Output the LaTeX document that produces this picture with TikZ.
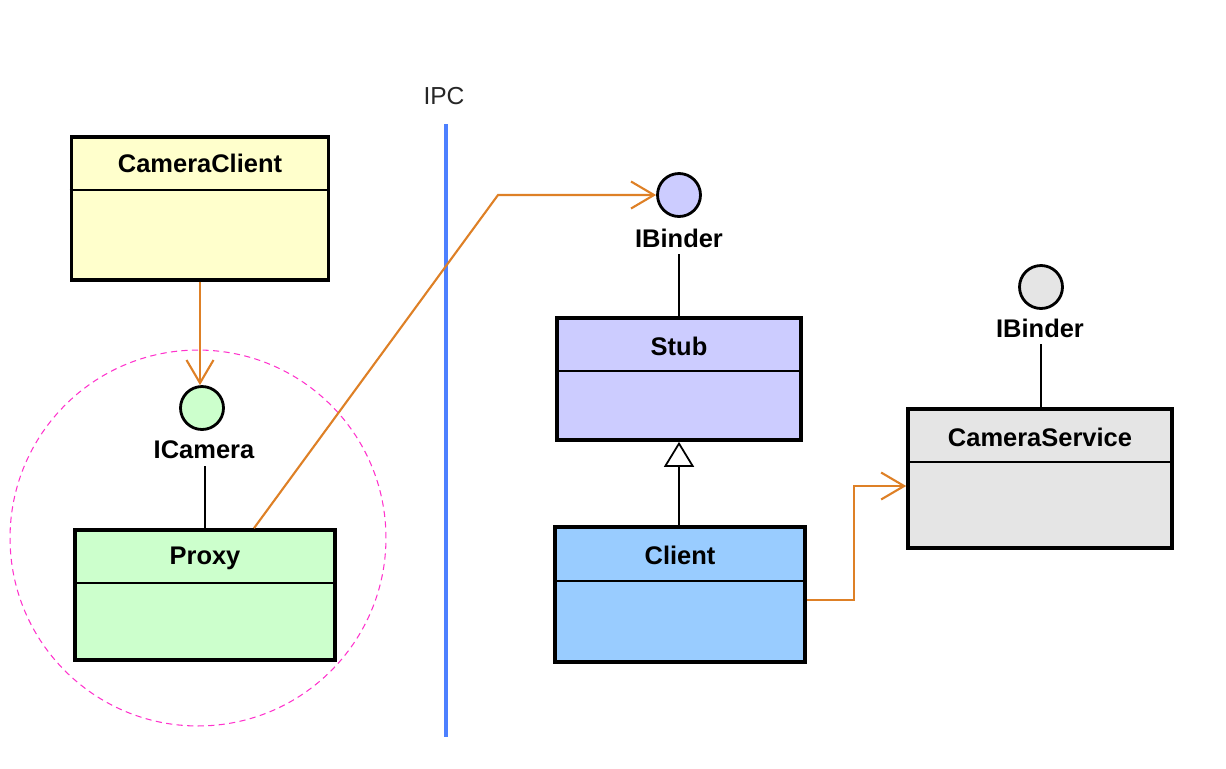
\documentclass[tikz,border=0pt]{standalone}
\usepackage{fontspec}
\setmainfont{Liberation Sans}
\usetikzlibrary{arrows.meta}

\definecolor{clientyellow}{HTML}{FFFFCC}
\definecolor{proxygreen}{HTML}{CCFFCC}
\definecolor{stubviolet}{HTML}{CCCCFF}
\definecolor{clientblue}{HTML}{99CCFF}
\definecolor{servicegray}{HTML}{E5E5E5}
\definecolor{deporange}{RGB}{222,128,38}
\definecolor{ipcblue}{RGB}{77,128,255}
\definecolor{groupmagenta}{RGB}{255,51,204}

\tikzset{
  classbox/.style={draw, line width=2.1pt, inner sep=0pt},
  classtitle/.style={font=\fontsize{14.5}{17}\selectfont\bfseries, inner sep=0pt},
  divider/.style={line width=1.1pt},
  iface/.style={circle, draw, line width=1.6pt, minimum size=0.86cm, inner sep=0pt},
  ifacelabel/.style={font=\fontsize{14.5}{17}\selectfont\bfseries, inner sep=1pt},
  stem/.style={line width=1pt},
  dep/.style={deporange, line width=1.2pt, -{Straight Barb[length=0.46cm, width=0.54cm]}},
  inherit/.style={line width=1pt, -{Triangle[open, length=0.5cm, width=0.6cm, fill=white]}}
}

\begin{document}
\begin{tikzpicture}[x=0.02cm, y=-0.02cm]
    \useasboundingbox (0,0) rectangle (1226,768);

    % Group circle round the proxy side
    \draw[groupmagenta, line width=0.6pt, dash pattern=on 3.5pt off 2.5pt] (198,538) circle[radius=3.76cm];

    % IPC boundary
    \node[font=\fontsize{14}{16}\selectfont, text=black!85] (ipc) at (444,96) {IPC};
    \draw[ipcblue, line width=2.2pt] (446,124) -- (446,737);

    % Class boxes
    \node[classbox, fill=clientyellow, minimum width=5.14cm, minimum height=2.86cm] (cameraclient) at (200,208.5) {};
    \node[classbox, fill=proxygreen, minimum width=5.2cm, minimum height=2.6cm] (proxy) at (205,595) {};
    \node[classbox, fill=stubviolet, minimum width=4.88cm, minimum height=2.44cm] (stub) at (679,379) {};
    \node[classbox, fill=clientblue, minimum width=5.0cm, minimum height=2.7cm] (client) at (680,594.5) {};
    \node[classbox, fill=servicegray, minimum width=5.28cm, minimum height=2.78cm] (cameraservice) at (1040,478.5) {};

    % Class names
    \node[classtitle] (cameraclienttitle) at ([yshift=-0.56cm]cameraclient.north) {CameraClient};
    \node[classtitle] (proxytitle) at ([yshift=-0.6cm]proxy.north) {Proxy};
    \node[classtitle] (stubtitle) at ([yshift=-0.6cm]stub.north) {Stub};
    \node[classtitle] (clienttitle) at ([yshift=-0.6cm]client.north) {Client};
    \node[classtitle] (cameraservicetitle) at ([yshift=-0.6cm]cameraservice.north) {CameraService};

    % Compartment lines
    \draw[divider] ([yshift=-1.1cm]cameraclient.north west) -- ([yshift=-1.1cm]cameraclient.north east);
    \draw[divider] ([yshift=-1.1cm]proxy.north west) -- ([yshift=-1.1cm]proxy.north east);
    \draw[divider] ([yshift=-1.1cm]stub.north west) -- ([yshift=-1.1cm]stub.north east);
    \draw[divider] ([yshift=-1.12cm]client.north west) -- ([yshift=-1.12cm]client.north east);
    \draw[divider] ([yshift=-1.1cm]cameraservice.north west) -- ([yshift=-1.1cm]cameraservice.north east);

    % Interfaces
    \node[iface, fill=proxygreen] (icamera) at (202,408) {};
    \node[ifacelabel] (icameralabel) at (204,450) {ICamera};
    \node[iface, fill=stubviolet] (binderstub) at (679,195) {};
    \node[ifacelabel] (binderstublabel) at (679,238) {IBinder};
    \node[iface, fill=servicegray] (binderservice) at (1041,287) {};
    \node[ifacelabel] (binderservicelabel) at (1040,328) {IBinder};

    % Interface stems
    \draw[stem] ([yshift=-0.1cm]icameralabel.south -| proxy.north) -- (proxy.north);
    \draw[stem] ([yshift=-0.1cm]binderstublabel.south) -- (stub.north);
    \draw[stem] ([yshift=-0.1cm]binderservicelabel.south -| binderservice) -- (binderservice |- cameraservice.north);

    % Generalization
    \draw[inherit] (client.north -| stub.south) -- (stub.south);

    % Dependencies
    \coordinate (ipcbend) at (498,195);
    \draw[dep] (cameraclient.south) -- (cameraclient.south |- icamera.north);
    \draw[dep] ([xshift=0.98cm]proxy.north) -- (ipcbend) -- (binderstub.west);
    \draw[dep] ([yshift=-0.11cm]client.east) -| ([xshift=-1.04cm, yshift=-0.15cm]cameraservice.west) -- ([yshift=-0.15cm]cameraservice.west);
\end{tikzpicture}
\end{document}
